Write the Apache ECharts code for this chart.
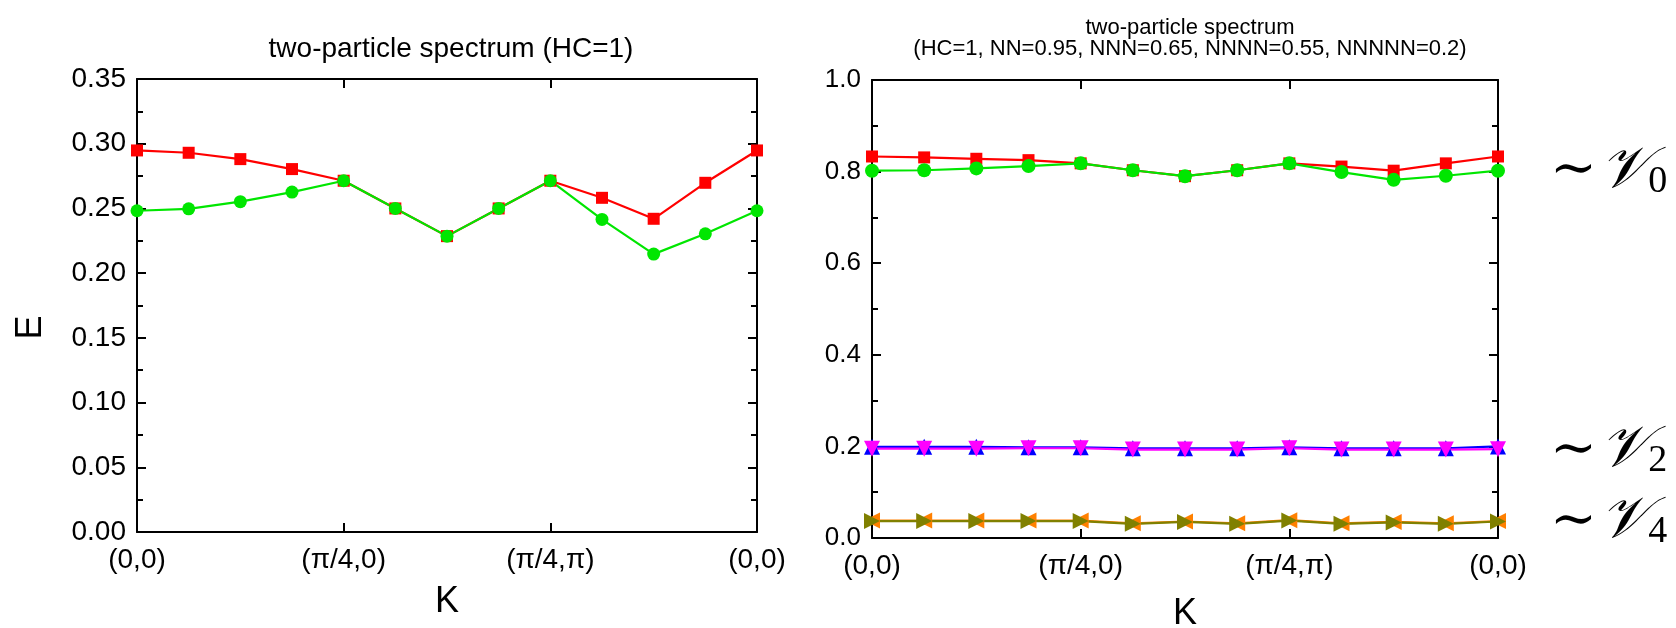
<!DOCTYPE html>
<html><head><meta charset="utf-8">
<script src="https://cdn.jsdelivr.net/npm/echarts@6/dist/echarts.min.js"></script>
<style>html,body{margin:0;padding:0;background:#fff}#c{width:1676px;height:628px}</style>
</head><body><div id="c"></div>
<script>
// ---- data ----
const kIndex = [0,1,2,3,4,5,6,7,8,9,10,11,12];
const kTickLabels = ['(0,0)','(π/4,0)','(π/4,π)','(0,0)'];

const leftRed   = [0.2948,0.2930,0.2881,0.2804,0.2714,0.2500,0.2286,0.2500,0.2714,0.2582,0.2420,0.2698,0.2948];
const leftGreen = [0.2482,0.2497,0.2552,0.2626,0.2714,0.2500,0.2286,0.2500,0.2714,0.2415,0.2147,0.2304,0.2482];

const rightRed     = [0.833,0.831,0.828,0.825,0.818,0.803,0.790,0.803,0.818,0.811,0.802,0.818,0.833];
const rightGreen   = [0.802,0.803,0.807,0.812,0.818,0.803,0.790,0.803,0.818,0.799,0.782,0.791,0.802];
const rightBlue    = [0.199,0.199,0.199,0.198,0.198,0.196,0.196,0.196,0.198,0.196,0.196,0.196,0.200];
const rightMagenta = [0.195,0.195,0.195,0.196,0.196,0.193,0.193,0.193,0.196,0.193,0.193,0.193,0.194];
const rightOrange  = [0.038,0.038,0.038,0.038,0.038,0.032,0.036,0.032,0.039,0.032,0.035,0.032,0.037];
const rightOlive   = [0.037,0.037,0.037,0.037,0.037,0.031,0.035,0.031,0.038,0.031,0.034,0.031,0.036];

const annotSubs   = ['0','2','4'];
const annotValues = [0.80, 0.19, 0.035];

// ---- chart ----
const chart = echarts.init(document.getElementById('c'));
const FONT = 'Liberation Sans, Arial, sans-serif';
const pairs = arr => arr.map((v,i)=>[kIndex[i], v]);

function xAx(grid, pos, showLabel, fs, nameGap){
  return {
    type:'value', gridIndex:grid, position:pos, min:0, max:12, interval:4,
    name: showLabel ? 'K' : '', nameLocation:'middle', nameGap:nameGap,
    nameTextStyle:{fontFamily:FONT, fontSize:36, color:'#000'},
    axisLine:{show:true, onZero:false, lineStyle:{color:'#000', width:2}},
    axisTick:{show:true, inside:true, length:9, lineStyle:{color:'#000', width:2}},
    axisLabel:{show:showLabel, margin:14, fontFamily:FONT, fontSize:fs, color:'#000',
      showMinLabel:true, showMaxLabel:true, hideOverlap:false,
      formatter: v => kTickLabels[Math.round(v/4)]},
    splitLine:{show:false}
  };
}
function yAx(grid, pos, showLabel, max, interval, fs, dec, name){
  return {
    type:'value', gridIndex:grid, position:pos, min:0, max:max, interval:interval,
    name: name || '', nameLocation:'middle', nameGap:88, nameRotate:90,
    nameTextStyle:{fontFamily:FONT, fontSize:36, color:'#000', padding:[0,44,0,0]},
    axisLine:{show:true, onZero:false, lineStyle:{color:'#000', width:2}},
    axisTick:{show:true, inside:true, length:9, lineStyle:{color:'#000', width:2}},
    minorTick:{show:true, splitNumber:2, length:6, lineStyle:{color:'#000', width:2}},
    axisLabel:{show:showLabel, margin:11, fontFamily:FONT, fontSize:fs, color:'#000',
      showMinLabel:true, showMaxLabel:true, hideOverlap:false,
      formatter: v => v.toFixed(dec)},
    splitLine:{show:false}, minorSplitLine:{show:false}
  };
}
function ser(x, y, data, color, symbol, size, rot){
  return {type:'line', xAxisIndex:x, yAxisIndex:y, data:pairs(data),
    symbol:symbol, symbolSize:size, symbolRotate:rot||0, showAllSymbol:true,
    lineStyle:{color:color, width:2.2}, itemStyle:{color:color, borderWidth:0},
    animation:false, clip:true, z:3};
}

const option = {
  backgroundColor:'#fff',
  animation:false,
  title:[
    {text:'two-particle spectrum (HC=1)', left:446, top:30, textAlign:'center',
     textStyle:{fontFamily:FONT, fontSize:28, fontWeight:'normal', color:'#000'}},
    {text:'two-particle spectrum\n(HC=1, NN=0.95, NNN=0.65, NNNN=0.55, NNNNN=0.2)', left:1185, top:12, textAlign:'center',
     textStyle:{fontFamily:FONT, fontSize:22, lineHeight:21, fontWeight:'normal', color:'#000'}}
  ],
  grid:[
    {left:137, top:79, width:620, height:453, containLabel:false, outerBoundsMode:'none'},
    {left:872, top:80, width:626, height:458, containLabel:false, outerBoundsMode:'none'}
  ],
  xAxis:[
    xAx(0,'bottom',true,28,52), xAx(0,'top',false,28,0),
    xAx(1,'bottom',true,28,58), xAx(1,'top',false,28,0)
  ],
  yAxis:[
    yAx(0,'left',true,0.35,0.05,28,2,'E'), yAx(0,'right',false,0.35,0.05,28,2),
    yAx(1,'left',true,1.0,0.2,26,1), yAx(1,'right',false,1.0,0.2,26,1)
  ],
  series:[
    ser(0,0,leftRed,'#ff0000','rect',12),
    ser(0,0,leftGreen,'#00e600','circle',13),
    ser(2,2,rightRed,'#ff0000','rect',12),
    ser(2,2,rightGreen,'#00e600','circle',14),
    ser(2,2,rightBlue,'#0000ff','triangle',16),
    ser(2,2,rightMagenta,'#ff00ff','triangle',16,180),
    ser(2,2,rightOrange,'#ff8000','triangle',16,90),
    ser(2,2,rightOlive,'#808000','triangle',16,-90)
  ]
};
chart.setOption(option);

// annotations on the right side, positioned through the right panel's scales
const xr = chart.convertToPixel({xAxisIndex:2}, 12);
chart.setOption({graphic: annotValues.map((v,i)=>({
  type:'text', x: xr + 52, y: chart.convertToPixel({yAxisIndex:2}, v),
  style:{text:'{t|∼} {v|𝒱}{s|'+annotSubs[i]+'}', verticalAlign:'middle', align:'left',
    rich:{
      t:{fontFamily:'DejaVu Serif, serif', fontSize:56, color:'#000', verticalAlign:'middle'},
      v:{fontFamily:'DejaVu Serif, DejaVu Sans, serif', fontSize:58, color:'#000', fontStyle:'italic'},
      s:{fontFamily:'Liberation Serif, serif', fontSize:38, color:'#000', verticalAlign:'bottom', padding:[16,0,0,0]}
    }}
}))});
</script>
</body></html>
